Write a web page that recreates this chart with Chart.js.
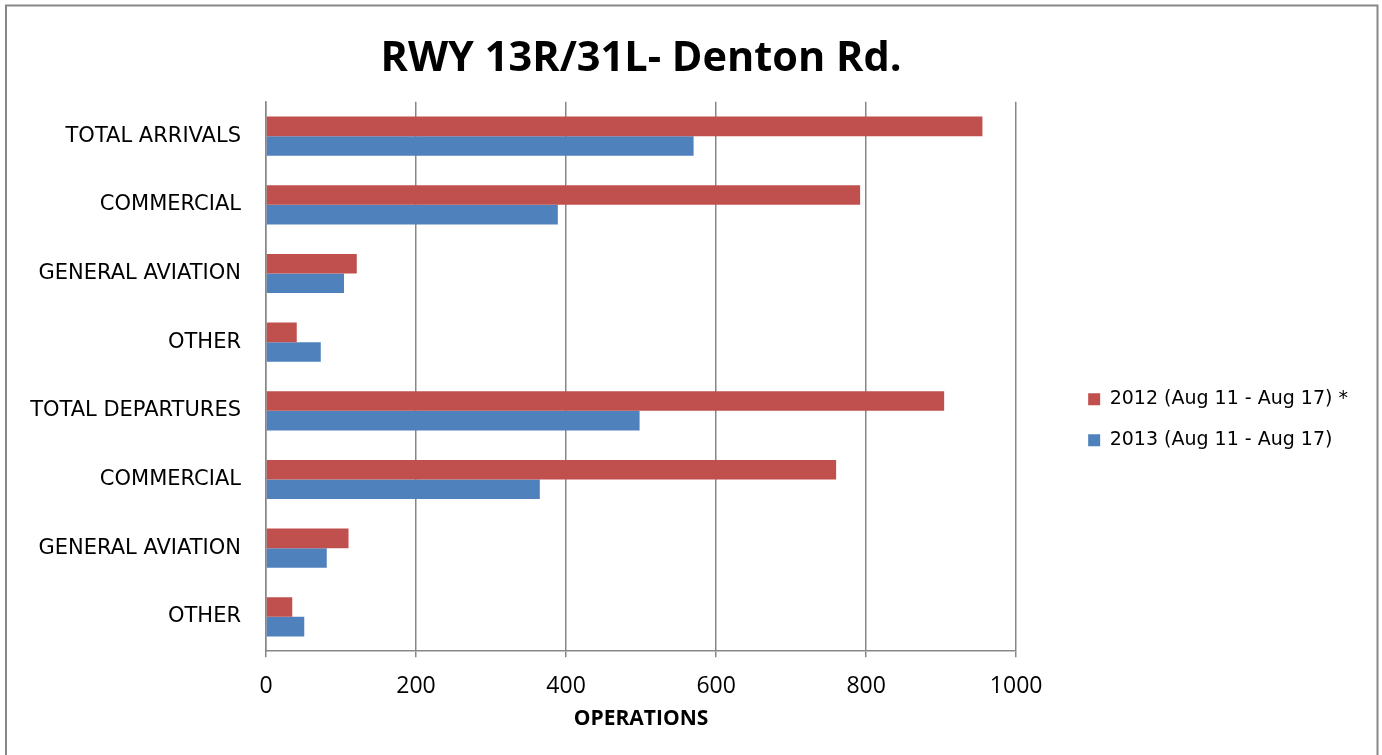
<!DOCTYPE html>
<html>
<head>
<meta charset="utf-8">
<script src="https://cdn.jsdelivr.net/npm/chart.js@4/dist/chart.umd.min.js"></script>
<style>
  body { margin: 0; background: #fff; }
  canvas { display: block; }
</style>
</head>
<body>
<canvas id="myChart" width="1382" height="755"></canvas>
<script>
const categories = ["TOTAL ARRIVALS", "COMMERCIAL", "GENERAL AVIATION", "OTHER",
  "TOTAL DEPARTURES", "COMMERCIAL", "GENERAL AVIATION", "OTHER"];
const seriesNames = ["2012 (Aug 11 - Aug 17) *", "2013 (Aug 11 - Aug 17)"];
const values2012 = [955, 792, 121, 41, 904, 760, 110, 35];
const values2013 = [570, 389, 104, 73, 498, 365, 81, 51];
const xTicks = [0, 200, 400, 600, 800, 1000];

const barColors = ["#C0504D", "#4F81BD"];
const gridColor = "#878787";

// frame around the whole chart, like the excel chart border
const frame = {
  id: "frame",
  beforeDraw(chart) {
    const ctx = chart.ctx;
    ctx.save();
    ctx.fillStyle = "#fff";
    ctx.fillRect(0, 0, chart.width, chart.height);
    ctx.strokeStyle = gridColor;
    ctx.lineWidth = 2;
    ctx.strokeRect(6, 5.5, 1371.5, 760);
    ctx.restore();
  }
};

new Chart("myChart", {
  type: "bar",
  data: {
    labels: categories,
    datasets: [
      { label: seriesNames[0], data: values2012, backgroundColor: barColors[0] },
      { label: seriesNames[1], data: values2013, backgroundColor: barColors[1] }
    ]
  },
  options: {
    indexAxis: "y",
    responsive: false,
    animation: false,
    devicePixelRatio: 1,
    categoryPercentage: 0.57,
    barPercentage: 1,
    layout: { padding: { left: 6, right: 24, top: 15, bottom: 23 } },
    scales: {
      x: {
        min: 0,
        max: 1000,
        afterBuildTicks(scale) {
          scale.ticks = xTicks.map(v => ({ value: v }));
        },
        grid: { color: gridColor, lineWidth: 1.5, tickLength: 6 },
        border: { color: gridColor, width: 1.5 },
        ticks: {
          color: "#000",
          padding: 15,
          font: { family: "Open Sans", size: 23 },
          callback: v => String(v)
        },
        title: {
          display: true,
          text: "OPERATIONS",
          color: "#000",
          padding: { top: -8, bottom: 0 },
          font: { family: "Open Sans", size: 21, weight: "bold" }
        }
      },
      y: {
        afterFit(scale) { scale.width = 260; },
        grid: { display: false, drawTicks: false },
        border: { color: gridColor, width: 1.5 },
        ticks: { color: "#000", padding: 25, font: { family: "DejaVu Sans", size: 21 } }
      },
      gap: {
        type: "category",
        position: "right",
        afterFit(scale) { scale.width = 50; },
        grid: { display: false, drawTicks: false },
        border: { display: false },
        ticks: { display: false }
      }
    },
    plugins: {
      title: {
        display: true,
        fullSize: false,
        text: "RWY 13R/31L- Denton Rd.",
        color: "#000",
        padding: { top: 19, bottom: 18 },
        font: { family: "Open Sans", size: 41.5, weight: "bold" }
      },
      legend: {
        position: "right",
        maxWidth: 400,
        title: { display: true, text: "", padding: { top: 78, bottom: 0 } },
        labels: {
          boxWidth: 12,
          boxHeight: 12,
          padding: 22,
          color: "#000",
          font: { family: "DejaVu Sans", size: 19 }
        }
      },
      tooltip: { enabled: false }
    }
  },
  plugins: [frame]
});
</script>
</body>
</html>
